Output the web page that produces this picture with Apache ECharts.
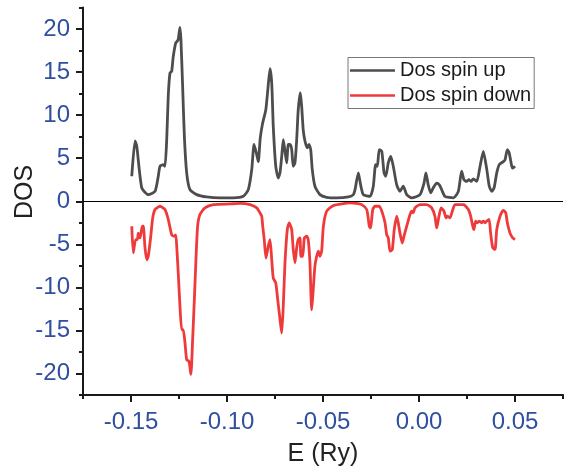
<!DOCTYPE html>
<html>
<head>
<meta charset="utf-8">
<script src="https://cdn.jsdelivr.net/npm/echarts@6/dist/echarts.min.js"></script>
<style>
  html, body { margin: 0; padding: 0; background: #fff; }
  #chart { width: 564px; height: 468px; }
</style>
</head>
<body>
<div id="chart"></div>
<script>
// Energy (Ry) and density of states for the spin-up channel
const upEnergy = [
  -0.1496, -0.1479, -0.1470, -0.1444, -0.1410, -0.1375, -0.1358, -0.1349, -0.1332, -0.1323,
  -0.1314, -0.1306, -0.1297, -0.1288, -0.1280, -0.1267, -0.1259, -0.1254, -0.1245, -0.1240,
  -0.1231, -0.1222, -0.1210, -0.1193, -0.1158, -0.1106, -0.1036, -0.0967, -0.0915, -0.0889,
  -0.0871, -0.0859, -0.0845, -0.0837, -0.0827, -0.0815, -0.0798, -0.0788, -0.0776, -0.0767,
  -0.0759, -0.0746, -0.0733, -0.0724, -0.0715, -0.0707, -0.0698, -0.0689, -0.0681, -0.0672,
  -0.0663, -0.0655, -0.0646, -0.0637, -0.0629, -0.0618, -0.0611, -0.0603, -0.0594, -0.0582,
  -0.0573, -0.0564, -0.0556, -0.0542, -0.0516, -0.0481, -0.0429, -0.0368, -0.0342, -0.0333,
  -0.0316, -0.0304, -0.0290, -0.0255, -0.0238, -0.0226, -0.0217, -0.0207, -0.0194, -0.0182,
  -0.0173, -0.0160, -0.0147, -0.0134, -0.0116, -0.0099, -0.0082, -0.0064, -0.0038, 0.0005,
  0.0026, 0.0036, 0.0048, 0.0061, 0.0074, 0.0092, 0.0106, 0.0118, 0.0135, 0.0179,
  0.0205, 0.0222, 0.0234, 0.0248, 0.0260, 0.0271, 0.0283, 0.0301, 0.0318, 0.0335,
  0.0353, 0.0366, 0.0379, 0.0391, 0.0405, 0.0418, 0.0439, 0.0448, 0.0460, 0.0470,
  0.0483, 0.0488, 0.0500
];
const upDos = [
  2.9, 7.0, 6.4, 1.55, 0.77, 1.15, 2.9, 4.06, 4.25, 4.06,
  7.15, 12.2, 14.9, 15.1, 16.8, 18.4, 18.6, 18.8, 20.2, 18.8,
  13.3, 7.5, 3.3, 1.35, 0.77, 0.5, 0.39, 0.39, 0.57, 1.35,
  3.7, 6.6, 5.4, 4.6, 7.3, 9.0, 10.6, 12.8, 15.4, 13.7,
  8.7, 4.06, 2.7, 3.3, 5.2, 7.15, 5.8, 4.45, 6.6, 6.6,
  6.0, 4.06, 4.45, 7.15, 10.6, 12.6, 11.0, 8.3, 7.0, 6.2,
  6.6, 6.0, 3.7, 1.74, 0.77, 0.46, 0.39, 0.5, 0.77, 1.35,
  3.3, 1.9, 0.77, 0.57, 1.74, 4.25, 4.06, 6.0, 5.8, 3.3,
  2.9, 4.45, 5.2, 4.06, 1.9, 1.15, 1.74, 0.77, 0.39, 0.77,
  2.1, 3.3, 1.9, 0.97, 1.55, 2.1, 1.9, 1.35, 0.57, 0.39,
  1.15, 3.5, 2.5, 2.3, 2.5, 2.3, 2.6, 2.3, 4.06, 5.8,
  3.7, 1.74, 1.15, 1.55, 3.3, 4.25, 4.6, 4.8, 6.0, 5.6,
  4.06, 3.85, 4.06
];

// Energy (Ry) and density of states for the spin-down channel
const downEnergy = [
  -0.1496, -0.1488, -0.1476, -0.1467, -0.1462, -0.1453, -0.1441, -0.1436, -0.1427, -0.1418,
  -0.1410, -0.1397, -0.1387, -0.1375, -0.1349, -0.1323, -0.1306, -0.1288, -0.1276, -0.1267,
  -0.1262, -0.1254, -0.1245, -0.1236, -0.1228, -0.1219, -0.1210, -0.1198, -0.1188, -0.1179,
  -0.1170, -0.1161, -0.1153, -0.1141, -0.1115, -0.1071, -0.0984, -0.0932, -0.0880, -0.0845,
  -0.0828, -0.0819, -0.0814, -0.0806, -0.0797, -0.0785, -0.0776, -0.0767, -0.0759, -0.0746,
  -0.0736, -0.0724, -0.0715, -0.0707, -0.0698, -0.0686, -0.0676, -0.0663, -0.0655, -0.0646,
  -0.0637, -0.0629, -0.0620, -0.0615, -0.0606, -0.0597, -0.0585, -0.0577, -0.0568, -0.0559,
  -0.0551, -0.0542, -0.0533, -0.0524, -0.0516, -0.0507, -0.0498, -0.0481, -0.0446, -0.0359,
  -0.0324, -0.0298, -0.0272, -0.0259, -0.0252, -0.0241, -0.0229, -0.0207, -0.0191, -0.0177,
  -0.0168, -0.0160, -0.0151, -0.0139, -0.0129, -0.0116, -0.0108, -0.0099, -0.0087, -0.0078,
  -0.0064, -0.0047, -0.0038, -0.0030, -0.0021, 0.0005, 0.0040, 0.0066, 0.0083, 0.0092,
  0.0101, 0.0115, 0.0130, 0.0141, 0.0147, 0.0161, 0.0176, 0.0188, 0.0231, 0.0257,
  0.0269, 0.0280, 0.0286, 0.0295, 0.0304, 0.0314, 0.0327, 0.0335, 0.0344, 0.0353,
  0.0365, 0.0373, 0.0384, 0.0396, 0.0405, 0.0422, 0.0439, 0.0452, 0.0460, 0.0474,
  0.0488, 0.0500
];
const downDos = [
  -2.9, -6.0, -4.45, -4.45, -3.7, -4.25, -2.9, -2.9, -5.4, -6.8,
  -6.4, -4.06, -1.94, -0.97, -0.58, -0.97, -2.1, -3.9, -4.06, -3.9,
  -5.2, -8.3, -12.2, -14.9, -14.9, -16.4, -18.4, -18.6, -20.1, -16.1,
  -11.4, -6.4, -2.9, -1.55, -0.77, -0.39, -0.31, -0.25, -0.39, -0.77,
  -1.35, -1.74, -2.9, -4.45, -6.6, -5.2, -4.45, -6.8, -8.9, -9.5,
  -11.4, -13.7, -15.3, -12.2, -7.15, -3.3, -2.5, -3.3, -5.6, -7.15,
  -5.4, -4.45, -4.25, -6.4, -6.4, -4.25, -4.06, -4.45, -7.15, -12.6,
  -10.3, -7.5, -6.4, -5.8, -6.4, -5.8, -2.9, -1.16, -0.5, -0.2,
  -0.25, -0.39, -0.97, -2.9, -3.1, -0.97, -0.58, -0.58, -1.35, -2.5,
  -3.9, -4.25, -5.8, -5.6, -3.3, -1.74, -2.5, -3.7, -4.85, -4.06,
  -2.9, -1.55, -1.16, -1.35, -0.77, -0.39, -0.39, -0.77, -1.74, -3.1,
  -2.1, -0.77, -1.16, -1.93, -1.74, -1.93, -0.97, -0.39, -0.39, -0.97,
  -1.74, -2.9, -3.3, -2.3, -2.5, -2.3, -2.5, -2.3, -2.5, -2.3,
  -2.1, -3.7, -5.4, -5.6, -3.3, -1.74, -1.05, -1.35, -2.5, -3.7,
  -4.25, -4.45
];

// Labelled ticks on each axis
const xTickLabels = [-0.15, -0.10, -0.05, 0.00, 0.05];
const yTickLabels = [-20, -15, -10, -5, 0, 5, 10, 15, 20];

const seriesNames = ['Dos spin up', 'Dos spin down'];

const pair = (xs, ys) => xs.map((x, i) => [x, ys[i]]);

const labelBlue = '#2f4f9f';
const axisBlack = '#1a1a1a';
const upColor = '#4d4d4d';
const downColor = '#ef3a3b';

const chart = echarts.init(document.getElementById('chart'), null, { renderer: 'canvas' });

const xBase = {
  type: 'value',
  min: -0.175,
  max: 0.075,
  interval: 0.025,
  position: 'bottom',
  splitLine: { show: false }
};
const yBase = {
  type: 'value',
  min: -22.5,
  max: 22.5,
  interval: 2.5,
  position: 'left',
  splitLine: { show: false }
};

chart.setOption({
  backgroundColor: '#ffffff',
  animation: false,
  grid: { left: 83, right: 1, top: 7.5, bottom: 73, containLabel: false, outerBoundsMode: 'none' },
  legend: {
    orient: 'vertical',
    left: 348,
    top: 57.5,
    padding: [3, 3, 3, 2],
    itemGap: 5,
    itemWidth: 45,
    itemHeight: 2.5,
    icon: 'rect',
    borderColor: '#777777',
    borderWidth: 1,
    textStyle: { fontFamily: 'Liberation Sans, Arial, sans-serif', fontSize: 20, color: '#1a1a1a', lineHeight: 20 },
    data: seriesNames
  },
  xAxis: [
    Object.assign({}, xBase, {
      axisLine: { show: true, onZero: false, lineStyle: { color: axisBlack, width: 2 } },
      axisTick: { show: true, length: 4, lineStyle: { color: axisBlack, width: 2 } },
      axisLabel: {
        show: true,
        customValues: xTickLabels,
        margin: 15,
        color: labelBlue,
        fontFamily: 'Liberation Sans, Arial, sans-serif',
        fontSize: 24,
        formatter: v => v.toFixed(2)
      },
      name: 'E (Ry)',
      nameLocation: 'middle',
      nameGap: 47,
      nameTextStyle: { fontFamily: 'Liberation Sans, Arial, sans-serif', fontSize: 25, color: '#222222' }
    }),
    Object.assign({}, xBase, {
      axisLine: { show: false, onZero: false },
      axisTick: { show: true, customValues: xTickLabels, length: 7, lineStyle: { color: axisBlack, width: 2 } },
      axisLabel: { show: false }
    })
  ],
  yAxis: [
    Object.assign({}, yBase, {
      axisLine: { show: true, onZero: false, lineStyle: { color: axisBlack, width: 2 } },
      axisTick: { show: true, length: 4, lineStyle: { color: axisBlack, width: 2 } },
      axisLabel: {
        show: true,
        customValues: yTickLabels,
        margin: 13,
        color: labelBlue,
        fontFamily: 'Liberation Sans, Arial, sans-serif',
        fontSize: 24,
        formatter: v => String(v)
      }
    }),
    Object.assign({}, yBase, {
      axisLine: { show: false, onZero: false },
      axisTick: { show: true, customValues: yTickLabels, length: 7, lineStyle: { color: axisBlack, width: 2 } },
      axisLabel: { show: false }
    })
  ],
  graphic: [
    {
      type: 'text',
      x: 25,
      y: 192,
      rotation: Math.PI / 2,
      style: {
        text: 'DOS',
        align: 'center',
        verticalAlign: 'middle',
        font: '25px "Liberation Sans", Arial, sans-serif',
        fill: '#222222'
      }
    }
  ],
  series: [
    {
      name: seriesNames[0],
      type: 'line',
      xAxisIndex: 0,
      yAxisIndex: 0,
      data: pair(upEnergy, upDos),
      symbol: 'none',
      smooth: 0.2,
      lineStyle: { color: upColor, width: 2.8, join: 'round' },
      itemStyle: { color: upColor },
      markLine: {
        silent: true,
        symbol: 'none',
        label: { show: false },
        lineStyle: { color: '#000000', width: 1, type: 'solid' },
        data: [{ yAxis: 0 }]
      },
      z: 3
    },
    {
      name: seriesNames[1],
      type: 'line',
      xAxisIndex: 0,
      yAxisIndex: 0,
      data: pair(downEnergy, downDos),
      symbol: 'none',
      smooth: 0.2,
      lineStyle: { color: downColor, width: 2.8, join: 'round' },
      itemStyle: { color: downColor },
      z: 3
    }
  ]
});
</script>
</body>
</html>
